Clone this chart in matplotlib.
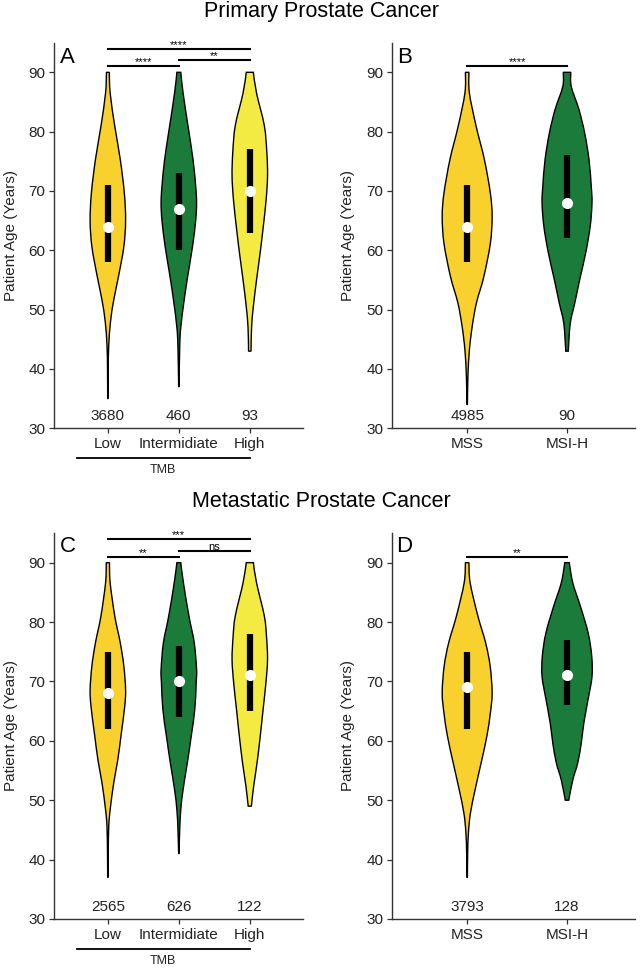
import numpy as np
import matplotlib.pyplot as plt
from matplotlib.path import Path
from matplotlib.patches import PathPatch

plt.rcParams['font.family'] = ['Liberation Sans', 'DejaVu Sans']

lowColor = "#F8D12F"
midColor = "#1B7B3A"
highColor = "#F3EB41"

tmbLabels = ["Low", "Intermidiate", "High"]
msiLabels = ["MSS", "MSI-H"]

# sample sizes written under each violin
primaryTmbCounts = [3680, 460, 93]
primaryMsiCounts = [4985, 90]
metastaticTmbCounts = [2565, 626, 122]
metastaticMsiCounts = [3793, 128]

# quartiles and medians (years)
primaryTmbQ1 = [58, 60, 63]
primaryTmbMedian = [64, 67, 70]
primaryTmbQ3 = [71, 73, 77]
primaryMsiQ1 = [58, 62]
primaryMsiMedian = [64, 68]
primaryMsiQ3 = [71, 76]
metastaticTmbQ1 = [62, 64, 65]
metastaticTmbMedian = [68, 70, 71]
metastaticTmbQ3 = [75, 76, 78]
metastaticMsiQ1 = [62, 66]
metastaticMsiMedian = [69, 71]
metastaticMsiQ3 = [75, 77]

# violin outlines: age and relative density (max = 1)
primaryLowAges = [35, 40, 44, 48, 51.6, 55.6, 60.6, 65, 69.6, 75.3, 80.9, 86.5, 90]
primaryLowDensity = [0.01, 0.02, 0.05, 0.15, 0.33, 0.6, 0.9, 1.0, 0.93, 0.7, 0.39, 0.13, 0.08]
primaryMidAges = [37, 43.7, 47, 51.6, 56, 60.6, 65, 68, 70.8, 75.3, 80.9, 86.5, 90]
primaryMidDensity = [0.01, 0.05, 0.11, 0.3, 0.52, 0.77, 0.95, 1.0, 0.95, 0.8, 0.52, 0.24, 0.11]
primaryHighAges = [43, 47, 50.5, 55, 59.5, 64, 68.5, 72.5, 76.5, 81, 86.5, 90]
primaryHighDensity = [0.07, 0.1, 0.2, 0.38, 0.58, 0.76, 0.92, 1.0, 0.96, 0.82, 0.38, 0.2]
primaryMssAges = [34, 38.7, 43.2, 47.1, 51.1, 55.6, 61.2, 65.7, 69.6, 75.3, 80.9, 86.5, 90]
primaryMssDensity = [0.01, 0.03, 0.09, 0.2, 0.37, 0.67, 0.93, 1.0, 0.93, 0.69, 0.36, 0.09, 0.07]
primaryMsiAges = [43, 47.7, 51.1, 55.1, 59.6, 64.1, 68, 70.8, 75.3, 79.7, 83.7, 87.6, 90]
primaryMsiDensity = [0.05, 0.13, 0.31, 0.51, 0.75, 0.93, 1.0, 0.97, 0.88, 0.71, 0.48, 0.17, 0.15]
metastaticLowAges = [37, 41, 45.6, 48.4, 52.9, 56.8, 61.3, 65.8, 68.6, 72.6, 76.5, 81, 86.6, 90]
metastaticLowDensity = [0.01, 0.02, 0.05, 0.13, 0.33, 0.56, 0.76, 0.95, 1.0, 0.9, 0.7, 0.39, 0.13, 0.09]
metastaticMidAges = [41, 45.1, 48.4, 51.8, 56.3, 60.8, 65.3, 69.8, 72, 76.5, 81, 86.6, 90]
metastaticMidDensity = [0.01, 0.05, 0.11, 0.24, 0.48, 0.7, 0.9, 0.98, 1.0, 0.87, 0.57, 0.26, 0.11]
metastaticHighAges = [49, 52.4, 56.3, 60.8, 65.3, 69.8, 73.7, 77.6, 81, 86.6, 90]
metastaticHighDensity = [0.09, 0.22, 0.41, 0.59, 0.75, 0.91, 1.0, 0.94, 0.82, 0.38, 0.2]
metastaticMssAges = [37, 41, 44.5, 47.8, 51.8, 56.3, 60.8, 64.7, 68.1, 72.6, 76.5, 81, 86.6, 90]
metastaticMssDensity = [0.01, 0.02, 0.05, 0.13, 0.32, 0.56, 0.79, 0.93, 1.0, 0.92, 0.74, 0.43, 0.12, 0.07]
metastaticMsiAges = [50, 53.4, 56.3, 59.6, 62.9, 66.9, 70.8, 74.2, 78.1, 82.6, 86.6, 90]
metastaticMsiDensity = [0.07, 0.23, 0.43, 0.57, 0.67, 0.84, 1.0, 0.99, 0.85, 0.54, 0.23, 0.09]

# significance brackets
primaryTmbPairs = [(1, 2), (2, 3), (1, 3)]
primaryTmbBracketY = [91, 92, 94]
primaryTmbStars = ["****", "**", "****"]
metastaticTmbPairs = [(1, 2), (2, 3), (1, 3)]
metastaticTmbBracketY = [91, 92, 94]
metastaticTmbStars = ["**", "ns", "***"]
primaryMsiStars = ["****"]
metastaticMsiStars = ["**"]


def add_smooth(verts, codes, pts, center, side):
    n = len(pts)
    for i in range(n - 1):
        p0 = pts[max(i - 1, 0)]
        p1 = pts[i]
        p2 = pts[i + 1]
        p3 = pts[min(i + 2, n - 1)]
        c1 = p1 + (p2 - p0) / 6
        c2 = p2 - (p3 - p1) / 6
        for c in (c1, c2):
            if side * (c[0] - center) < 0:
                c[0] = center
        verts += [c1, c2, p2]
        codes += [Path.CURVE4] * 3


def draw_violin(ax, center, ages, density, color, halfWidth=0.25):
    ages = np.asarray(ages, float)
    hw = np.asarray(density, float) * halfWidth
    right = np.column_stack([center + hw, ages])
    left = np.column_stack([center - hw, ages])[::-1]
    verts = [right[0]]
    codes = [Path.MOVETO]
    add_smooth(verts, codes, right, center, 1)
    verts.append(left[0])
    codes.append(Path.LINETO)
    add_smooth(verts, codes, left, center, -1)
    verts.append(right[0])
    codes.append(Path.CLOSEPOLY)
    patch = PathPatch(Path(verts, codes), facecolor=color, edgecolor="black", lw=1.0, zorder=2)
    ax.add_patch(patch)


def panel(ax, labels, profiles, colors, q1, med, q3, counts, xlim):
    xs = np.arange(1, len(labels) + 1)
    for x, (ages, dens), col in zip(xs, profiles, colors):
        draw_violin(ax, x, ages, dens, col)
    for x, a, m, b in zip(xs, q1, med, q3):
        ax.plot([x, x], [a, b], color="black", lw=4.5, solid_capstyle="butt", zorder=3)
        ax.plot(x, m, "o", color="white", ms=7, mec="white", zorder=4)
    for x, n in zip(xs, counts):
        ax.text(x, 32, str(n), ha="center", va="center", fontsize=11, color="#222222")
    ax.set_xlim(*xlim)
    ax.set_ylim(30, 95)
    ax.set_yticks([30, 40, 50, 60, 70, 80, 90])
    ax.set_xticks(xs)
    ax.set_xticklabels(labels)
    ax.spines[["top", "right"]].set_visible(False)
    for s in ("left", "bottom"):
        ax.spines[s].set_linewidth(1.0)
        ax.spines[s].set_color("#333333")
    ax.tick_params(length=3.3, width=0.9, labelsize=11, pad=3, colors="#333333", labelcolor="#222222")
    ax.set_ylabel("Patient Age (Years)", fontsize=11, color="#222222", va="center")


def brackets(ax, pairs, ys, stars):
    for (a, b), y, s in zip(pairs, ys, stars):
        ax.plot([a, b], [y, y], color="black", lw=1.5, clip_on=False, zorder=5)
        ax.text((a + b) / 2, y + 0.15, s, ha="center", va="baseline", fontsize=8, clip_on=False)


def tmb_axis_label(ax):
    tr = ax.get_xaxis_transform()
    ax.plot([0.56, 3.0], [-0.077, -0.077], transform=tr, color="black", lw=1.3, clip_on=False)
    ax.text(1.78, -0.108, "TMB", transform=tr, ha="center", va="center", fontsize=9, color="#222222")


fig = plt.figure(figsize=(6.42, 9.69), dpi=100)
axA = fig.add_axes([0.084, 0.558, 0.388, 0.398])
axB = fig.add_axes([0.611, 0.558, 0.378, 0.398])
axC = fig.add_axes([0.084, 0.0516, 0.388, 0.3984])
axD = fig.add_axes([0.611, 0.0516, 0.378, 0.3984])

tmbColors = [lowColor, midColor, highColor]
msiColors = [lowColor, midColor]

panel(axA, tmbLabels,
      [(primaryLowAges, primaryLowDensity), (primaryMidAges, primaryMidDensity),
       (primaryHighAges, primaryHighDensity)],
      tmbColors, primaryTmbQ1, primaryTmbMedian, primaryTmbQ3, primaryTmbCounts, (0.24, 3.75))
brackets(axA, primaryTmbPairs, primaryTmbBracketY, primaryTmbStars)
tmb_axis_label(axA)

panel(axB, msiLabels,
      [(primaryMssAges, primaryMssDensity), (primaryMsiAges, primaryMsiDensity)],
      msiColors, primaryMsiQ1, primaryMsiMedian, primaryMsiQ3, primaryMsiCounts, (0.25, 2.68))
brackets(axB, [(1, 2)], [91], primaryMsiStars)

panel(axC, tmbLabels,
      [(metastaticLowAges, metastaticLowDensity), (metastaticMidAges, metastaticMidDensity),
       (metastaticHighAges, metastaticHighDensity)],
      tmbColors, metastaticTmbQ1, metastaticTmbMedian, metastaticTmbQ3, metastaticTmbCounts, (0.24, 3.75))
brackets(axC, metastaticTmbPairs, metastaticTmbBracketY, metastaticTmbStars)
tmb_axis_label(axC)

panel(axD, msiLabels,
      [(metastaticMssAges, metastaticMssDensity), (metastaticMsiAges, metastaticMsiDensity)],
      msiColors, metastaticMsiQ1, metastaticMsiMedian, metastaticMsiQ3, metastaticMsiCounts, (0.25, 2.68))
brackets(axD, [(1, 2)], [91], metastaticMsiStars)

axA.yaxis.set_label_coords(-43 / 249, 0.5)
axC.yaxis.set_label_coords(-43 / 249, 0.5)
axB.yaxis.set_label_coords(-44 / 243, 0.5)
axD.yaxis.set_label_coords(-44 / 243, 0.5)

fig.text(0.5, 0.9825, "Primary Prostate Cancer", ha="center", va="baseline", fontsize=15.5)
fig.text(0.5, 0.4765, "Metastatic Prostate Cancer", ha="center", va="baseline", fontsize=15.5)

for x, y, letter in [(0.0935, 0.9353, "A"), (0.618, 0.9353, "B"),
                     (0.0935, 0.4307, "C"), (0.617, 0.4307, "D")]:
    fig.text(x, y, letter, ha="left", va="baseline", fontsize=16)

fig.savefig("out.png", dpi=100)
